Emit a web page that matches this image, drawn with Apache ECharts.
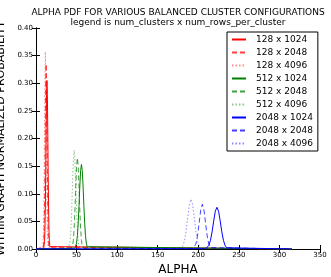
<!DOCTYPE html>
<html>
<head>
<meta charset="utf-8">
<script src="https://cdn.jsdelivr.net/npm/echarts@6/dist/echarts.min.js"></script>
<style>html,body{margin:0;padding:0;background:#fff;}#c{width:331px;height:277px;}</style>
</head>
<body>
<div id="c"></div>
<script>
// ---- data ----
var seriesNames = ['128 x 1024','128 x 2048','128 x 4096','512 x 1024','512 x 2048','512 x 4096','2048 x 1024','2048 x 2048','2048 x 4096'];

var alpha_128x1024 = [0, 9.5, 10, 10.5, 11, 11.5, 12, 12.5, 13, 13.5, 14, 14.5, 15, 15.5, 16, 16.5, 17, 17.5, 315];
var pdf_128x1024   = [0, 0.0012, 0.0043, 0.0134, 0.0348, 0.076, 0.140, 0.216, 0.280, 0.305, 0.280, 0.216, 0.140, 0.076, 0.0348, 0.0134, 0.0043, 0.0012, 0];

var alpha_128x2048 = [0, 9, 9.5, 10, 10.5, 11, 11.5, 12, 12.5, 13, 13.5, 14, 14.5, 15, 15.5, 16, 315];
var pdf_128x2048   = [0, 0.0033, 0.011, 0.0315, 0.0737, 0.143, 0.229, 0.305, 0.335, 0.305, 0.229, 0.143, 0.0737, 0.0315, 0.011, 0.0033, 0];

var alpha_128x4096 = [0, 8, 8.5, 9, 9.5, 10, 10.5, 11, 11.5, 12, 12.5, 13, 13.5, 14, 14.5, 15, 315];
var pdf_128x4096   = [0, 0.0022, 0.0086, 0.0271, 0.068, 0.141, 0.236, 0.322, 0.357, 0.322, 0.236, 0.141, 0.068, 0.0271, 0.0086, 0.0022, 0];

var alpha_512x1024 = [0, 48, 49, 50, 51, 52, 53, 54, 55, 56, 57, 58, 59, 60, 61, 62, 63, 64, 315];
var pdf_512x1024   = [0, 0.0013, 0.0041, 0.0107, 0.024, 0.0468, 0.0786, 0.114, 0.142, 0.153, 0.142, 0.114, 0.0786, 0.0468, 0.024, 0.0107, 0.0041, 0.0013, 0];

var alpha_512x2048 = [0, 44, 45, 46, 47, 48, 49, 50, 51, 52, 53, 54, 55, 56, 57, 58, 315];
var pdf_512x2048   = [0, 0.0016, 0.0054, 0.0155, 0.0363, 0.0705, 0.113, 0.150, 0.165, 0.150, 0.113, 0.0705, 0.0363, 0.0155, 0.0054, 0.0016, 0];

var alpha_512x4096 = [0, 40, 41, 42, 43, 44, 45, 46, 47, 48, 49, 50, 51, 52, 53, 54, 315];
var pdf_512x4096   = [0, 0.0011, 0.0043, 0.0136, 0.0342, 0.0707, 0.118, 0.161, 0.179, 0.161, 0.118, 0.0707, 0.0342, 0.0136, 0.0043, 0.0011, 0];

var alpha_2048x1024 = [0, 209, 211, 213, 215, 217, 219, 221, 223, 225, 227, 229, 231, 233, 235, 237, 315];
var pdf_2048x1024   = [0, 0.0006, 0.0022, 0.0064, 0.0156, 0.0310, 0.0509, 0.0684, 0.0755, 0.0684, 0.0509, 0.0310, 0.0156, 0.0064, 0.0022, 0.0006, 0];

var alpha_2048x2048 = [0, 193, 195, 197, 199, 201, 203, 205, 207, 209, 211, 213, 215, 217, 315];
var pdf_2048x2048   = [0, 0.0006, 0.0025, 0.0088, 0.0232, 0.0465, 0.0705, 0.081, 0.0705, 0.0465, 0.0232, 0.0088, 0.0025, 0.0006, 0];

var alpha_2048x4096 = [0, 177, 179, 181, 183, 185, 187, 189, 191, 193, 195, 197, 199, 201, 203, 205, 315];
var pdf_2048x4096   = [0, 0.0004, 0.0015, 0.0053, 0.0147, 0.0324, 0.0572, 0.0804, 0.09, 0.0804, 0.0572, 0.0324, 0.0147, 0.0053, 0.0015, 0.0004, 0];

var xTicks = [0, 50, 100, 150, 200, 250, 300, 350];
var yTicks = [0.00, 0.05, 0.10, 0.15, 0.20, 0.25, 0.30, 0.35, 0.40];

// ---- styles ----
var alphas = [alpha_128x1024, alpha_128x2048, alpha_128x4096, alpha_512x1024, alpha_512x2048, alpha_512x4096, alpha_2048x1024, alpha_2048x2048, alpha_2048x4096];
var pdfs = [pdf_128x1024, pdf_128x2048, pdf_128x4096, pdf_512x1024, pdf_512x2048, pdf_512x4096, pdf_2048x1024, pdf_2048x2048, pdf_2048x4096];
var colors = ['#ff0000','#ff0000','#ff0000','#008000','#008000','#008000','#0000ff','#0000ff','#0000ff'];
var dashTypes = ['solid',[5,3],[1.5,2],'solid',[5,3],[1.5,2],'solid',[5,3],[1.5,2]];
var opac = [1,0.75,0.45,1,0.75,0.45,1,0.75,0.45];

var FONT = 'DejaVu Sans';
var series = [];
for (var i = 0; i < seriesNames.length; i++) {
  var d = [];
  for (var j = 0; j < alphas[i].length; j++) d.push([alphas[i][j], pdfs[i][j]]);
  series.push({
    name: seriesNames[i], type: 'line', data: d, symbol: 'none', showSymbol: false,
    xAxisIndex: 0, yAxisIndex: 0, animation: false,
    lineStyle: { color: colors[i], width: 1, type: dashTypes[i], opacity: opac[i] },
    itemStyle: { color: colors[i], opacity: opac[i] }
  });
}

var chart = echarts.init(document.getElementById('c'), null, { renderer: 'canvas' });
var commonTick = { show: true, inside: true, length: 4, lineStyle: { color: '#000', width: 1 } };
chart.setOption({
  animation: false,
  backgroundColor: '#fff',
  title: [
    { text: 'ALPHA PDF FOR VARIOUS BALANCED CLUSTER CONFIGURATIONS', left: 178, top: 8, textAlign: 'center', padding: 0,
      textStyle: { fontFamily: FONT, fontSize: 9, fontWeight: 'normal', color: '#000' } },
    { text: 'legend is num_clusters x num_rows_per_cluster', left: 178, top: 18, textAlign: 'center', padding: 0,
      textStyle: { fontFamily: FONT, fontSize: 9, fontWeight: 'normal', color: '#000' } }
  ],
  grid: { left: 36, top: 28, right: 11, bottom: 28, containLabel: false, outerBoundsMode: 'none', show: false },
  legend: {
    orient: 'vertical', left: 227, top: 32, width: 89,
    padding: [2, 5, 2, 4], itemGap: 2, itemWidth: 14, itemHeight: 11,
    borderColor: '#000', borderWidth: 1, backgroundColor: '#fff',
    itemStyle: { opacity: 0, color: 'transparent', borderWidth: 0 },
    textStyle: { fontFamily: FONT, fontSize: 9, color: '#000', lineHeight: 11, padding: [0, 0, 0, 5] },
    data: seriesNames
  },
  xAxis: [
    { type: 'value', min: 0, max: 350, interval: 50, position: 'bottom',
      name: 'ALPHA', nameLocation: 'middle', nameGap: 8,
      nameTextStyle: { fontFamily: FONT, fontSize: 12, color: '#000', verticalAlign: 'top' },
      axisLine: { show: true, lineStyle: { color: '#000', width: 1 } },
      axisTick: commonTick, splitLine: { show: false },
      axisLabel: { fontFamily: FONT, fontSize: 7, color: '#000', margin: 3,
        formatter: function (v) { return xTicks.indexOf(v) >= 0 ? String(v) : ''; } } },
    { type: 'value', min: 0, max: 350, interval: 50, position: 'top',
      axisLine: { show: true, lineStyle: { color: '#000', width: 1 } },
      axisTick: commonTick, splitLine: { show: false }, axisLabel: { show: false } }
  ],
  yAxis: [
    { type: 'value', min: 0, max: 0.4, interval: 0.05, position: 'left',
      name: 'WITHIN GRAPH NORMALIZED PROBABILITY', nameLocation: 'middle', nameGap: 28, nameRotate: 90,
      nameTextStyle: { fontFamily: FONT, fontSize: 11, color: '#000' },
      axisLine: { show: true, lineStyle: { color: '#000', width: 1 } },
      axisTick: commonTick, splitLine: { show: false },
      axisLabel: { fontFamily: FONT, fontSize: 7, color: '#000', margin: 3,
        formatter: function (v) { return v.toFixed(2); } } },
    { type: 'value', min: 0, max: 0.4, interval: 0.05, position: 'right',
      axisLine: { show: true, lineStyle: { color: '#000', width: 1 } },
      axisTick: commonTick, splitLine: { show: false }, axisLabel: { show: false } }
  ],
  series: series
});
</script>
</body>
</html>
